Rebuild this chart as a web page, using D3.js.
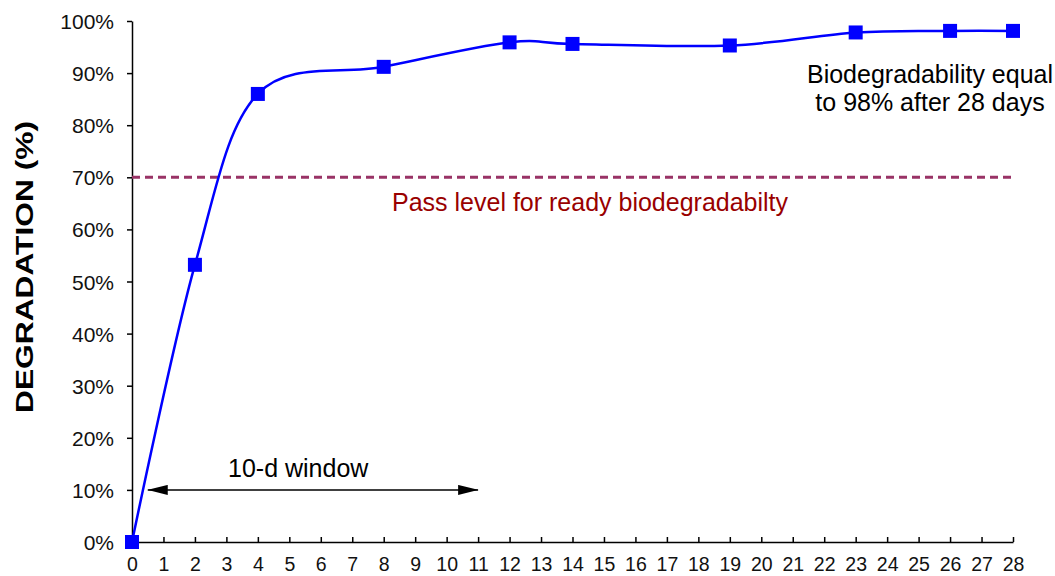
<!DOCTYPE html>
<html>
<head>
<meta charset="utf-8">
<script src="https://cdn.jsdelivr.net/npm/d3@7"></script>
<style>
  html, body { margin: 0; padding: 0; background: #fff; }
  svg { display: block; font-family: "Liberation Sans", Arial, sans-serif; }
</style>
</head>
<body>
<div id="chart"></div>
<script>
// Data
const days = [0, 2, 4, 8, 12, 14, 19, 23, 26, 28];
const degradation = [0, 53.2, 86.0, 91.2, 95.9, 95.6, 95.3, 97.8, 98.1, 98.1];

const xTickValues = d3.range(0, 29);
const yTickValues = [0, 10, 20, 30, 40, 50, 60, 70, 80, 90, 100];

const passLevel = 70;
const windowStart = 0.5;
const windowEnd = 11;
const windowLevel = 10;

const passLabel = "Pass level for ready biodegradabilty";
const noteLines = ["Biodegradability equal", "to 98% after 28 days"];

const W = 1055, H = 576;
const margin = { top: 21, right: 42, bottom: 34, left: 132 };
const width = W - margin.left - margin.right;
const height = H - margin.top - margin.bottom;

const svg = d3.select("#chart").append("svg")
  .attr("width", W)
  .attr("height", H);

const g = svg.append("g")
  .attr("transform", "translate(" + margin.left + "," + margin.top + ")");

// Scales
const x = d3.scaleLinear().domain([0, 28]).range([0, width]);
const y = d3.scaleLinear().domain([0, 100]).range([height, 0]);

// Y axis (ticks outside, to the left)
const yAxis = g.append("g")
  .call(d3.axisLeft(y).tickValues(yTickValues).tickSize(5).tickSizeOuter(0)
    .tickFormat(d => d + "%"));
yAxis.select(".domain").attr("stroke", "#000").attr("stroke-width", 1.5);
yAxis.selectAll(".tick line").attr("stroke", "#000").attr("stroke-width", 1.5);
yAxis.selectAll(".tick text")
  .attr("x", -18)
  .attr("dy", "0.36em")
  .style("font-size", "21px")
  .style("font-family", "Liberation Sans, Arial, sans-serif")
  .attr("fill", "#111");

// X axis (ticks pointing up, into the plot)
const xAxis = g.append("g")
  .attr("transform", "translate(0," + height + ")")
  .call(d3.axisBottom(x).tickValues(xTickValues).tickSize(-5).tickSizeOuter(0)
    .tickFormat(d3.format("d")));
xAxis.select(".domain").attr("stroke", "#000").attr("stroke-width", 1.5);
xAxis.selectAll(".tick line").attr("stroke", "#000").attr("stroke-width", 1.5);
xAxis.selectAll(".tick text")
  .attr("y", 29)
  .attr("dy", 0)
  .style("font-size", "19.5px")
  .style("font-family", "Liberation Sans, Arial, sans-serif")
  .attr("fill", "#111");

// Y axis title
svg.append("text")
  .attr("transform", "translate(33,267) rotate(-90)")
  .attr("text-anchor", "middle")
  .attr("textLength", 292)
  .attr("lengthAdjust", "spacingAndGlyphs")
  .style("font-size", "23px")
  .style("font-weight", "bold")
  .text("DEGRADATION (%)");

// Pass level line + label
g.append("line")
  .attr("x1", x(0)).attr("x2", x(28))
  .attr("y1", y(passLevel)).attr("y2", y(passLevel))
  .attr("stroke", "#993366")
  .attr("stroke-width", 3)
  .attr("stroke-dasharray", "8,5");

g.append("text")
  .attr("x", 392 - margin.left)
  .attr("y", y(passLevel) + 34)
  .attr("fill", "#990000")
  .style("font-size", "25px")
  .text(passLabel);

// 10-day window arrow
const defs = svg.append("defs");
defs.append("marker")
  .attr("id", "arrow")
  .attr("viewBox", "0 0 20 10")
  .attr("refX", 20).attr("refY", 5)
  .attr("markerWidth", 20).attr("markerHeight", 10)
  .attr("markerUnits", "userSpaceOnUse")
  .attr("orient", "auto-start-reverse")
  .append("path")
  .attr("d", "M0,0 L20,5 L0,10 Z")
  .attr("fill", "#000");

g.append("line")
  .attr("x1", x(windowStart)).attr("x2", x(windowEnd))
  .attr("y1", y(windowLevel)).attr("y2", y(windowLevel))
  .attr("stroke", "#000")
  .attr("stroke-width", 1.5)
  .attr("marker-start", "url(#arrow)")
  .attr("marker-end", "url(#arrow)");

g.append("text")
  .attr("x", 228 - margin.left)
  .attr("y", y(windowLevel) - 13)
  .style("font-size", "25px")
  .text("10-d window");

// Note in the top right corner
g.append("text")
  .attr("x", 930 - margin.left)
  .attr("text-anchor", "middle")
  .style("font-size", "25px")
  .selectAll("tspan")
  .data(noteLines)
  .join("tspan")
  .attr("x", 930 - margin.left)
  .attr("y", (d, i) => 83 - margin.top + i * 28)
  .text(d => d);

// Smoothed curve
const points = days.map((d, i) => ({ day: d, value: degradation[i] }));

const line = d3.line()
  .x(d => x(d.day))
  .y(d => y(d.value))
  .curve(d3.curveCardinal.tension(0));

g.append("path")
  .datum(points)
  .attr("fill", "none")
  .attr("stroke", "#0000ff")
  .attr("stroke-width", 2.5)
  .attr("d", line);

// Square markers
const size = 14;
g.selectAll(".marker")
  .data(points)
  .join("rect")
  .attr("class", "marker")
  .attr("x", d => x(d.day) - size / 2)
  .attr("y", d => y(d.value) - size / 2)
  .attr("width", size)
  .attr("height", size)
  .attr("fill", "#0000ff");
</script>
</body>
</html>
